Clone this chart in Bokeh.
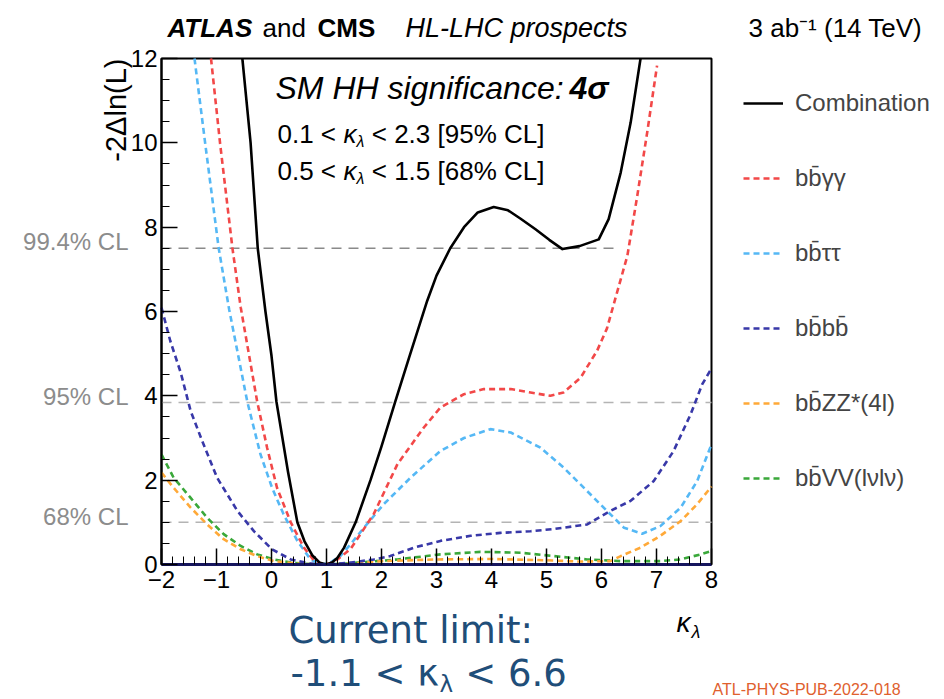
import math
from bokeh.plotting import figure
from bokeh.models import FixedTicker, Label, Legend, LegendItem
from bokeh.embed import file_html
from bokeh.resources import INLINE

# -2 Delta ln(L) scans versus kappa_lambda (HL-LHC, 3 ab^-1)
kl_comb = [-0.53, -0.38, -0.25, -0.11, 0.0, 0.09, 0.3, 0.47, 0.6, 0.74, 0.88, 1.0, 1.1, 1.2,
           1.32, 1.53, 1.8, 2.0, 2.25, 2.5, 2.83, 3.0, 3.25, 3.5, 3.75, 4.04, 4.3, 4.53, 4.8, 5.05,
           5.29, 5.6, 5.95, 6.13, 6.35, 6.53, 6.71]
nll_comb = [12.0, 10.0, 7.5, 6.0, 4.95, 3.86, 2.2, 1.0, 0.55, 0.22, 0.04, 0.0, 0.05, 0.16,
            0.4, 1.0, 2.0, 2.8, 3.86, 4.9, 6.25, 6.85, 7.5, 8.0, 8.35, 8.48, 8.4, 8.2, 7.95, 7.7,
            7.48, 7.55, 7.71, 8.19, 9.3, 10.48, 12.0]

kl_yy = [-1.10, -0.93, -0.71, -0.56, -0.26, -0.08, 0.1, 0.35, 0.59, 0.77, 0.95, 1.07, 1.2,
         1.44, 1.86, 2.29, 2.77, 3.07, 3.5, 3.86, 4.35, 4.71, 5.07, 5.31, 5.62, 5.92, 6.1, 6.25,
         6.47, 6.65, 6.83, 7.01]
nll_yy = [12.0, 9.93, 7.5, 6.1, 3.86, 2.77, 1.82, 1.0, 0.4, 0.1, 0.0, 0.03, 0.12,
          0.37, 1.2, 2.38, 3.25, 3.72, 4.04, 4.16, 4.16, 4.08, 4.0, 4.08, 4.43, 5.07, 5.6, 6.3,
          7.32, 8.74, 10.24, 11.83]

kl_tt = [-1.4, -1.2, -0.96, -0.77, -0.44, -0.2, 0.01, 0.22, 0.47, 0.71, 0.9, 1.05, 1.25,
         1.45, 1.68, 2.04, 2.53, 3.07, 3.5, 3.98, 4.35, 4.71, 4.89, 5.31, 5.74, 6.1, 6.41, 6.74,
         7.07, 7.44, 7.74, 8.0]
nll_tt = [12.0, 9.93, 7.5, 6.05, 3.86, 2.61, 1.82, 1.19, 0.56, 0.12, 0.0, 0.03, 0.2,
          0.5, 0.87, 1.43, 2.06, 2.69, 3.0, 3.21, 3.13, 2.89, 2.77, 2.30, 1.74, 1.27, 0.87, 0.73,
          0.91, 1.35, 1.98, 2.85]

kl_4b = [-2.0, -1.84, -1.65, -1.47, -1.26, -0.99, -0.62, -0.32, 0.01, 0.35, 0.7, 1.0, 1.4, 1.86,
         2.16, 2.59, 3.07, 3.62, 4.16, 4.71, 5.13, 5.74, 6.16, 6.53, 6.95, 7.31, 7.62, 7.83, 8.0]
nll_4b = [6.09, 5.3, 4.55, 3.64, 2.93, 2.06, 1.27, 0.79, 0.36, 0.12, 0.02, 0.0, 0.04, 0.12,
          0.2, 0.4, 0.56, 0.68, 0.75, 0.79, 0.84, 0.95, 1.27, 1.51, 1.98, 2.69, 3.56, 4.27, 4.65]

kl_zz = [-2.0, -1.78, -1.47, -1.17, -0.87, -0.56, -0.26, 0.04, 0.4, 0.8, 1.0, 1.5, 2.0, 3.0, 4.0,
         5.0, 5.6, 6.16, 6.35, 6.71, 7.07, 7.44, 7.74, 8.0]
nll_zz = [2.18, 1.82, 1.35, 0.95, 0.6, 0.36, 0.2, 0.08, 0.03, 0.0, 0.0, 0.03, 0.08, 0.12, 0.13,
          0.1, 0.07, 0.08, 0.2, 0.4, 0.68, 1.03, 1.43, 1.85]

kl_vv = [-2.0, -1.78, -1.47, -1.17, -0.87, -0.56, -0.26, 0.04, 0.4, 0.8, 1.0, 1.4, 1.9, 2.29,
         3.07, 3.8, 4.53, 5.13, 5.74, 6.35, 7.07, 7.44, 7.8, 8.0]
nll_vv = [2.61, 2.06, 1.58, 1.11, 0.72, 0.44, 0.24, 0.12, 0.04, 0.0, 0.0, 0.03, 0.08, 0.12,
          0.24, 0.30, 0.28, 0.2, 0.12, 0.08, 0.08, 0.12, 0.24, 0.32]

# confidence-level reference lines: label, -2 Delta ln(L) level, kappa range
cl_labels = ["99.4% CL", "95% CL", "68% CL"]
cl_levels = [7.5, 3.84, 1.0]
cl_x0 = [-2.0, -2.0, -2.0]
cl_x1 = [6.25, 8.0, 8.0]

x_ticks = [-2, -1, 0, 1, 2, 3, 4, 5, 6, 7, 8]
y_ticks = [0, 2, 4, 6, 8, 10, 12]
X_LO, X_HI, Y_LO, Y_HI = -2, 8, 0, 12

# The figure frame fills the whole canvas; the axes are pinned at the scan box edges.
W, H = 944, 699
BL, BR, BT, BB = 161, 711, 58, 564  # scan box edges on the canvas, px
sx = (BR - BL) / (X_HI - X_LO)
sy = (BB - BT) / (Y_HI - Y_LO)
x_start, x_end = X_LO - BL / sx, X_HI + (W - BR) / sx
y_start, y_end = Y_LO - (H - BB) / sy, Y_HI + BT / sy

p = figure(width=W, height=H, x_range=(x_start, x_end), y_range=(y_start, y_end),
           output_backend="svg", toolbar_location=None, min_border=0)
p.background_fill_color = "white"
p.border_fill_color = "white"
p.outline_line_color = None
p.xgrid.visible = False
p.ygrid.visible = False

FONT = "Liberation Sans"

p.xaxis.fixed_location = Y_LO
p.xaxis.bounds = (X_LO, X_HI)
p.yaxis.fixed_location = X_LO
p.yaxis.bounds = (Y_LO, Y_HI)
p.xaxis.ticker = FixedTicker(ticks=x_ticks, minor_ticks=[X_LO + 0.2 * i for i in range(51)])
p.xaxis.major_label_overrides = {-2: "\u22122", -1: "\u22121"}
p.yaxis.ticker = FixedTicker(ticks=y_ticks, minor_ticks=[0.5 * i for i in range(25)])
for ax in (p.xaxis, p.yaxis):
    ax.major_tick_in = 16
    ax.major_tick_out = 0
    ax.minor_tick_in = 8
    ax.minor_tick_out = 0
    ax.major_tick_line_color = "black"
    ax.minor_tick_line_color = "black"
    ax.major_tick_line_width = 1.5
    ax.major_label_text_font = FONT
    ax.major_label_text_font_size = "24px"
    ax.major_label_text_color = "black"
p.xaxis.axis_line_color = "#16165e"
p.xaxis.axis_line_width = 3
p.xaxis.major_label_standoff = 6
p.yaxis.axis_line_color = "black"
p.yaxis.axis_line_width = 2
p.yaxis.major_label_standoff = 4

# box around the scan region
p.quad(left=[X_LO], right=[X_HI], bottom=[Y_LO], top=[Y_HI],
       fill_color=None, line_color="black", line_width=2)

# CL reference lines
cl_colors = ["#8a8a8a", "#b4b4b4", "#b4b4b4"]
for lvl, x0, x1, c in zip(cl_levels, cl_x0, cl_x1, cl_colors):
    p.line([x0, x1], [lvl, lvl], line_color=c, line_width=1.5, line_dash="10 7")

dash = "6 4"
r_vv = p.line(kl_vv, nll_vv, line_color="#3aa83a", line_width=2.6, line_dash=dash)
r_zz = p.line(kl_zz, nll_zz, line_color="#ffa938", line_width=2.6, line_dash=dash)
r_4b = p.line(kl_4b, nll_4b, line_color="#3838a8", line_width=2.6, line_dash=dash)
r_tt = p.line(kl_tt, nll_tt, line_color="#55b8f5", line_width=2.6, line_dash=dash)
r_yy = p.line(kl_yy, nll_yy, line_color="#f24848", line_width=2.6, line_dash=dash)
r_comb = p.line(kl_comb, nll_comb, line_color="black", line_width=2.6, line_join="round")

# legend to the right of the scan box (rows 75 px apart, first row centred at y=103)
ROW_H, ROW_GAP = 28, 47
legend_h = 6 * ROW_H + 5 * ROW_GAP
legend = Legend(items=[
    LegendItem(label="Combination", renderers=[r_comb]),
    LegendItem(label="bb\u0304\u03b3\u03b3", renderers=[r_yy]),
    LegendItem(label="bb\u0304\u03c4\u03c4", renderers=[r_tt]),
    LegendItem(label="bb\u0304bb\u0304", renderers=[r_4b]),
    LegendItem(label="bb\u0304ZZ*(4l)", renderers=[r_zz]),
    LegendItem(label="bb\u0304VV(l\u03bdl\u03bd)", renderers=[r_vv]),
], location=(743, H - (103 - ROW_H // 2 + legend_h)))
legend.label_text_font = FONT
legend.label_text_font_size = "24px"
legend.glyph_width = 40
legend.glyph_height = ROW_H
legend.label_height = ROW_H
legend.label_standoff = 12
legend.spacing = ROW_GAP
legend.padding = 0
legend.margin = 0
legend.border_line_color = None
legend.background_fill_alpha = 0
p.add_layout(legend)

NB = "\u00a0"


def put(text, X, Y, size, font=FONT, style="normal", color="black",
        align="left", angle=0.0, centre=False):
    """Place a text at canvas pixel (X, Y) from the top-left corner.
    Y is the text baseline unless centre=True."""
    yc = Y if centre else Y - 0.35 * size
    p.add_layout(Label(x=X, y=H - yc, x_units="screen", y_units="screen",
                       text=text, text_font=font, text_font_size=f"{size}px",
                       text_font_style=style, text_color=color, text_align=align,
                       text_baseline="middle", angle=angle))


# header
put("ATLAS", 167, 37, 26, style="bold italic")
put("and", 262, 37, 26)
put("CMS", 317, 37, 26, style="bold")
put("HL-LHC prospects", 405, 37, 27, style="italic")
put("3 ab\u207b\u00b9 (14 TeV)", 748, 37, 26)

# annotations inside the scan box
put("SM HH significance:", 275, 99, 32, style="italic")
put("4\u03c3", 569, 99, 32, style="bold italic")
for txt_a, txt_b, yb in [("0.1 <", "< 2.3 [95% CL]", 143), ("0.5 <", "< 1.5 [68% CL]", 180)]:
    put(txt_a, 277, yb, 26)
    put("\u03ba", 343, yb, 26, style="italic")
    put("\u03bb", 356, yb + 4, 16, style="italic")
    put(NB + txt_b, 364, yb, 26)

# CL labels on the left
for txt, yb in zip(cl_labels, [249, 404, 524]):
    put(txt, 128, yb, 24, color="#8c8c8c", align="right")

# axis titles
put("-2\u0394ln(L)", 115, 58, 29, align="right", angle=math.pi / 2, centre=True)
put("\u03ba", 676, 632, 28, style="italic")
put("\u03bb", 691, 638, 18, style="italic")

# current limit note
BLUE = "#1f4e79"
put("Current limit:", 288, 643, 37, font="DejaVu Sans", color=BLUE)
put("-1.1 < \u03ba", 290, 686, 37, font="DejaVu Sans", color=BLUE)
put("\u03bb", 439, 692, 23, font="DejaVu Sans", color=BLUE)
put(NB + "< 6.6", 453, 686, 37, font="DejaVu Sans", color=BLUE)

put("ATL-PHYS-PUB-2022-018", 712, 695, 16, color="#e0602e")

open("out.html", "w").write(file_html(p, INLINE))
